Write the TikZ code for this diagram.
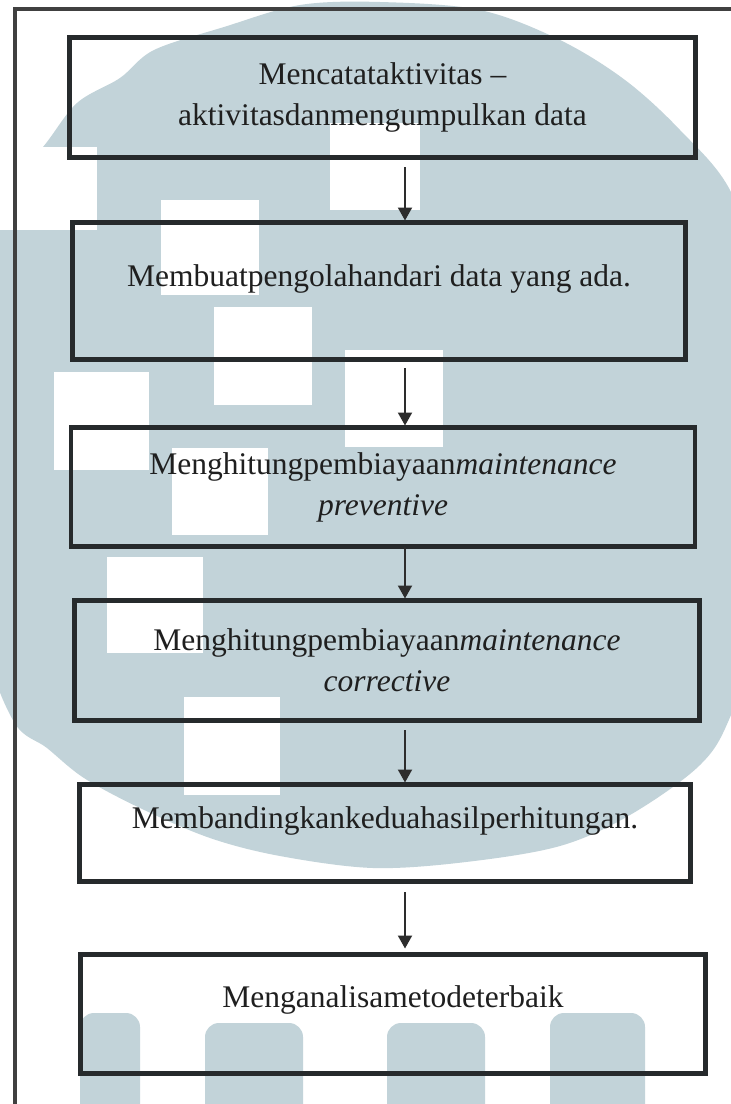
\documentclass[tikz,border=0pt]{standalone}
\usepackage{fontspec}
\setmainfont{Liberation Serif}
\usetikzlibrary{positioning,arrows.meta,backgrounds}

\definecolor{wmark}{RGB}{194,211,217}
\definecolor{boxline}{RGB}{38,42,44}
\definecolor{arrowline}{RGB}{45,45,45}

\begin{document}
\begin{tikzpicture}[
    x=1pt, y=-1pt,
    font=\fontsize{31.5pt}{41pt}\selectfont,
    >={Triangle[length=13pt,width=14pt]},
    node distance=64pt,
    stepbox/.style={
        draw=boxline,
        line width=4.5pt,
        outer sep=0pt,
        inner sep=2pt,
        align=center,
        text=black!88
    },
    lift/.style={text height=22pt, text depth=#1},
    flow/.style={->, draw=arrowline, line width=2pt},
    frame/.style={draw=black!75, line width=4pt},
    square/.style={fill=white}
]
\useasboundingbox (0,0) rectangle (731,1104);

% Steps
\node[stepbox, minimum width=626pt, minimum height=120pt] (collect) at (382.5,97.5)
    {Mencatataktivitas --\\aktivitasdanmengumpulkan data};
\node[stepbox, lift=32pt, minimum width=613pt, minimum height=137pt,
      below=65pt of collect, xshift=-3.5pt] (process)
    {Membuatpengolahandari data yang ada.};
\node[stepbox, minimum width=624pt, minimum height=119pt,
      below=68pt of process, xshift=4pt] (preventive)
    {Menghitungpembiayaan\textit{maintenance}\\\textit{preventive}};
\node[stepbox, minimum width=625pt, minimum height=120pt,
      below=54pt of preventive, xshift=4pt] (corrective)
    {Menghitungpembiayaan\textit{maintenance}\\\textit{corrective}};
\node[stepbox, lift=32pt, minimum width=611pt, minimum height=97pt,
      below=64pt of corrective, xshift=-2pt] (compare)
    {Membandingkankeduahasilperhitungan.};
\node[stepbox, lift=36pt, minimum width=625pt, minimum height=119pt,
      below=73pt of compare, xshift=8pt] (analyse)
    {Menganalisametodeterbaik};

% Connectors
\coordinate (axis) at (405,0);
\draw[flow, shorten <=9.5pt, shorten >=2pt] (collect.south -| axis) -- (process.north -| axis);
\draw[flow, shorten <=8.5pt, shorten >=2pt] (process.south -| axis) -- (preventive.north -| axis);
\draw[flow, shorten >=2pt] (preventive.south -| axis) -- (corrective.north -| axis);
\draw[flow, shorten <=9.5pt, shorten >=2pt] (corrective.south -| axis) -- (compare.north -| axis);
\draw[flow, shorten <=10.5pt, shorten >=6pt] (compare.south -| axis) -- (analyse.north -| axis);

% Frame
\draw[frame] (15,1110) -- (15,9) -- (740,9);

% Watermark
\begin{scope}[on background layer]
    \fill[white] (0,0) rectangle (731,1104);
    \clip (0,0) rectangle (731,1104);
    \fill[wmark] plot[smooth cycle, tension=0.55] coordinates {
        (380,2) (480,10) (560,40) (625,80) (680,130) (731,192) (765,300)
        (780,450) (770,600) (731,715) (700,765) (630,815) (560,846)
        (466,862) (373,868) (280,856) (210,838) (140,808) (84,778)
        (47,748) (14,722) (-15,640) (-30,480) (-20,320) (0,195)
        (43,147) (77,103) (120,78) (154,50) (224,27) (300,5)};
    \fill[square] (330,123) rectangle (420,210);
    \fill[square] (161,200) rectangle (259,295);
    \fill[square] (214,307) rectangle (312,405);
    \fill[square] (345,350) rectangle (443,447);
    \fill[square] (54,372) rectangle (149,470);
    \fill[square] (172,448) rectangle (268,535);
    \fill[square] (107,557) rectangle (203,653);
    \fill[square] (184,697) rectangle (280,795);
    \fill[square] (0,147) rectangle (97,230);
    \fill[wmark, rounded corners=14pt] (80,1120) -- (80,1013) -- (140,1013) -- (140,1120);
    \fill[wmark, rounded corners=14pt] (205,1120) -- (205,1023) -- (303,1023) -- (303,1120);
    \fill[wmark, rounded corners=14pt] (387,1120) -- (387,1023) -- (485,1023) -- (485,1120);
    \fill[wmark, rounded corners=14pt] (550,1120) -- (550,1013) -- (645,1013) -- (645,1120);
\end{scope}

\end{tikzpicture}
\end{document}
